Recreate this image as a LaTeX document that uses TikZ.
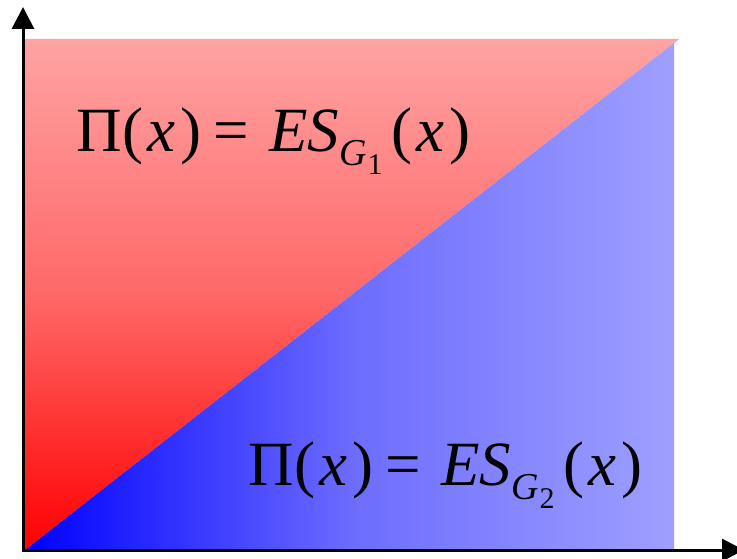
\documentclass[tikz,border=0pt]{standalone}
\usepackage{fontspec}
\setmainfont{Liberation Serif}
\usetikzlibrary{arrows.meta}
\definecolor{lightred}{HTML}{FFA3A3}
\definecolor{midred}{HTML}{FF6868}
\definecolor{lightblue}{HTML}{A0A0FF}
\definecolor{midblue}{HTML}{6C6CFF}
\tikzset{
  axis/.style={line width=3pt, -{Triangle[width=22pt,length=22pt]}},
  formula/.style={anchor=base west, inner sep=0pt, font=\fontsize{63}{70}\selectfont},
}
\newcommand{\myformula}[1]{%
  Π\hspace{1pt}(\hspace{4pt}\textit{x}\hspace{5pt})\hspace{12pt}=\hspace{20pt}\textit{ES}\hspace{0pt}\raisebox{-14pt}{\fontsize{38}{40}\selectfont\textit{G}\hspace{1pt}\raisebox{-9pt}{\fontsize{30}{32}\selectfont #1}}\hspace{9pt}(\hspace{4pt}\textit{x}\hspace{5pt})}
\begin{document}
\begin{tikzpicture}[x=1pt,y=1pt]
\useasboundingbox (0,0) rectangle (737,558);
\clip (0,0) rectangle (737,558);
\shade[top color=lightred, bottom color=red, middle color=midred] (25,519) -- (679,519) -- (25,8) -- cycle;
\shade[left color=blue, right color=lightblue, middle color=midblue] (25,8) -- (679,519) -- (674,515) -- (674,8) -- cycle;
\coordinate (O) at (23,8);
\coordinate (Ytip) at (23,551);
\coordinate (Xtip) at (744,8);
\draw[axis] ([yshift=-1.5pt]O) -- (Ytip);
\draw[axis] ([xshift=-1.5pt]O) -- (Xtip);
\node[formula] (f1) at (76,406) {\myformula{1}};
\node[formula] (f2) at (248,73) {\myformula{2}};
\end{tikzpicture}
\end{document}
